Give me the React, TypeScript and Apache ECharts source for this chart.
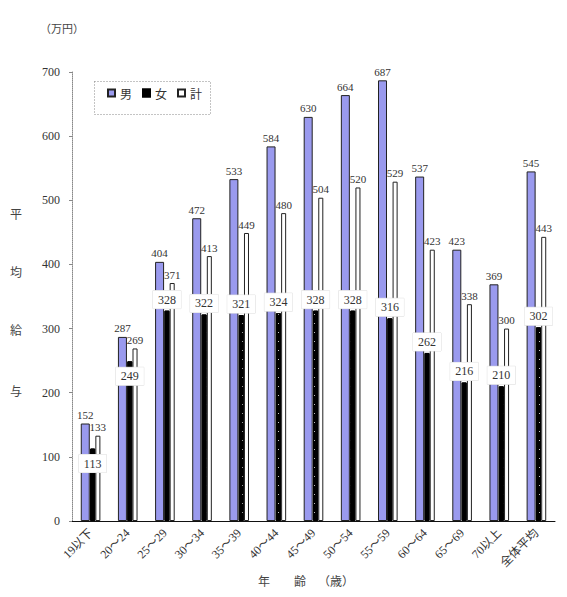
import { useEffect, useRef } from "react";
import * as echarts from "echarts";

const categories = ["19以下", "20～24", "25～29", "30～34", "35～39", "40～44", "45～49", "50～54", "55～59", "60～64", "65～69", "70以上", "全体平均"];
const male = [152, 287, 404, 472, 533, 584, 630, 664, 687, 537, 423, 369, 545];
const female = [113, 249, 328, 322, 321, 324, 328, 328, 316, 262, 216, 210, 302];
const total = [133, 269, 371, 413, 449, 480, 504, 520, 529, 423, 338, 300, 443];

const SERIF = "'Liberation Serif', 'Noto Sans CJK JP', serif";
const CJK = "'Noto Sans CJK JP', sans-serif";

const App = () => {
  const chartRef = useRef<HTMLDivElement>(null);

  useEffect(() => {
    if (!chartRef.current) return;
    const chart = echarts.init(chartRef.current, null, { renderer: "svg" });

    const topLabel = {
      show: true,
      position: "top",
      distance: 3,
      color: "#333",
      fontFamily: SERIF,
      fontSize: 11,
    };

    chart.setOption({
      animation: false,
      backgroundColor: "#fff",
      grid: { left: 64, right: 4, top: 64, bottom: 68 },
      legend: {
        left: 99,
        top: 79,
        padding: 0,
        icon: "rect",
        itemWidth: 7,
        itemHeight: 7,
        itemGap: 10,
        textStyle: { fontFamily: CJK, fontSize: 12, color: "#333" },
        data: ["男", "女", "計"],
      },
      graphic: [
        {
          type: "rect",
          left: 84,
          top: 71,
          shape: { width: 116, height: 33 },
          style: { fill: "none", stroke: "#888", lineWidth: 1, lineDash: [1, 2] },
        },
        { type: "text", left: 32, top: 14, style: { text: "（万円）", font: "11px " + CJK, fill: "#444" } },
        { type: "text", left: 2, top: 199, style: { text: "平", font: "12px " + CJK, fill: "#444" } },
        { type: "text", left: 2, top: 257, style: { text: "均", font: "12px " + CJK, fill: "#444" } },
        { type: "text", left: 2, top: 315, style: { text: "給", font: "12px " + CJK, fill: "#444" } },
        { type: "text", left: 2, top: 376, style: { text: "与", font: "12px " + CJK, fill: "#444" } },
        { type: "text", left: 250, top: 566, style: { text: "年", font: "12px " + CJK, fill: "#444" } },
        { type: "text", left: 286, top: 566, style: { text: "齢", font: "12px " + CJK, fill: "#444" } },
        { type: "text", left: 310, top: 566, style: { text: "（歳）", font: "12px " + CJK, fill: "#444" } },
      ],
      xAxis: {
        type: "category",
        data: categories,
        axisLine: { lineStyle: { color: "#111", width: 1 } },
        axisTick: { show: false },
        axisLabel: {
          rotate: 45,
          interval: 0,
          margin: 10,
          color: "#333",
          fontFamily: SERIF,
          fontSize: 12,
        },
      },
      yAxis: {
        type: "value",
        min: 0,
        max: 700,
        interval: 100,
        splitLine: { show: false },
        axisLine: { show: true, lineStyle: { color: "#888", type: "dotted" } },
        axisTick: { show: true, length: 3, lineStyle: { color: "#888" } },
        axisLabel: { margin: 12, color: "#333", fontFamily: SERIF, fontSize: 12 },
      },
      series: [
        {
          name: "男",
          type: "bar",
          data: male,
          barWidth: 9,
          barGap: "4%",
          itemStyle: { color: "#9a9aee", borderColor: "#222", borderWidth: 1 },
          label: topLabel,
        },
        {
          name: "女",
          type: "bar",
          data: female.map((v, i) =>
            i < 2 ? { value: v, label: { position: "insideTop", distance: 6 } } : v
          ),
          z: 3,
          itemStyle: {
            color: "#000",
            borderColor: "#000",
            borderWidth: 1,
            decal: {
              symbol: "rect",
              symbolSize: 1,
              color: "rgba(255,255,255,0.8)",
              dashArrayX: [[1, 8]],
              dashArrayY: [1, 8],
            },
          },
          label: {
            show: true,
            position: "top",
            distance: 2,
            color: "#333",
            fontFamily: SERIF,
            fontSize: 12,
            backgroundColor: "#fff",
            borderColor: "#ddd",
            borderWidth: 0.5,
            padding: [3, 5],
          },
        },
        {
          name: "計",
          type: "bar",
          data: total,
          itemStyle: { color: "#fff", borderColor: "#222", borderWidth: 1 },
          label: topLabel,
        },
      ],
    });

    return () => {
      chart.dispose();
    };
  }, []);

  return <div ref={chartRef} style={{ width: "551px", height: "581px" }}></div>;
};

export default App;
